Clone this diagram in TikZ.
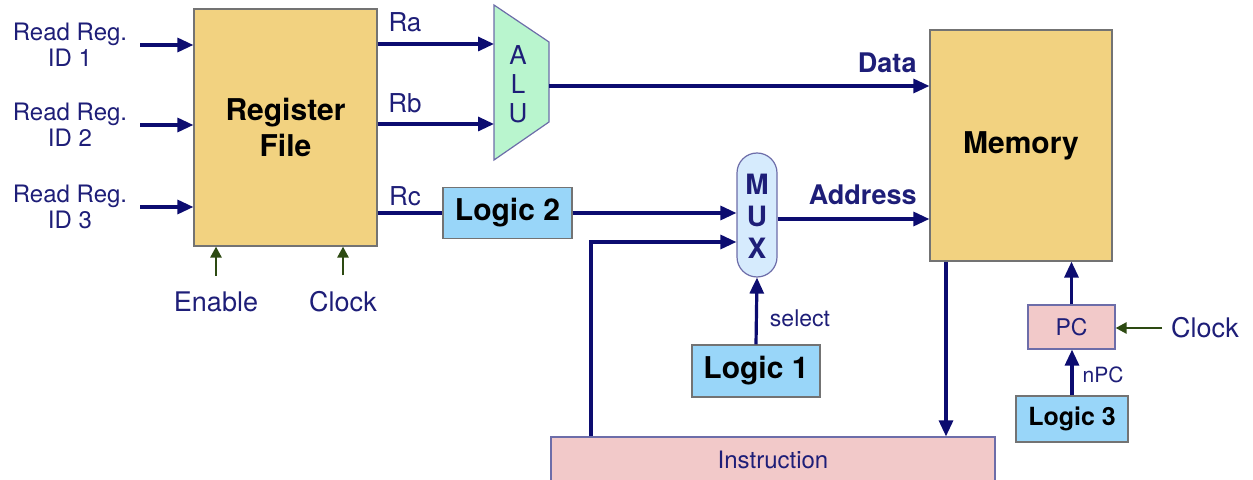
\documentclass[tikz,border=0pt]{standalone}
\usepackage{fontspec}
\setmainfont{TeX Gyre Heros}
\usetikzlibrary{arrows.meta,calc}
\definecolor{navy}{HTML}{0C0C70}
\definecolor{tnavy}{HTML}{1E1E78}
\definecolor{dgreen}{HTML}{2D4A12}
\definecolor{gold}{HTML}{F2D280}
\definecolor{mint}{HTML}{B9F5CE}
\definecolor{sky}{HTML}{99D6F9}
\definecolor{pale}{HTML}{D6EBFD}
\definecolor{rose}{HTML}{F2C9C9}
\tikzset{
  arr/.style={draw=navy,line width=1.6pt,-{Triangle[length=8pt,width=7pt]}},
  garr/.style={draw=dgreen,line width=1.3pt,-{Triangle[length=5.5pt,width=5.5pt]}},
  wire/.style={draw=navy,line width=1.6pt},
  bigbox/.style={draw=black!55,line width=0.6pt,fill=gold,inner sep=0pt},
  logicbox/.style={draw=black!55,line width=0.6pt,fill=sky,inner sep=0pt,font=\fontsize{15}{17}\selectfont\bfseries},
  pinkbox/.style={draw=navy!60,line width=0.6pt,fill=rose,inner sep=0pt,text=tnavy},
  lbl/.style={text=tnavy,inner sep=0pt},
}
\begin{document}
\begin{tikzpicture}[x=0.5pt,y=-0.5pt]
\useasboundingbox (0,0) rectangle (1253,480);
% boxes
\node[bigbox,minimum width=91.5pt,minimum height=118.5pt,align=center,font=\fontsize{15}{18}\selectfont\bfseries] (rf) at (285.5,127.5) {Register\\File};
\node[bigbox,minimum width=91pt,minimum height=115.5pt,font=\fontsize{15}{17}\selectfont\bfseries] (mem) at (1021,145.5) {Memory};
\node[logicbox,minimum width=64.5pt,minimum height=25.5pt] (l2) at (507.5,213) {Logic 2};
\node[logicbox,minimum width=64pt,minimum height=26pt] (l1) at (756,371) {Logic 1};
\node[logicbox,minimum width=56pt,minimum height=23pt,font=\fontsize{12.5}{14}\selectfont\bfseries] (l3) at (1072,419) {Logic 3};
\node[draw=navy!60,line width=0.6pt,fill=pale,rounded corners=10pt,minimum width=20pt,minimum height=62pt,inner sep=0pt] (mux) at (757,215) {};
\node[inner sep=0pt,align=center,font=\fontsize{14}{16}\selectfont\bfseries,text=tnavy] (muxt) at (757,216) {M\\U\\X};
\node[pinkbox,minimum width=222pt,minimum height=23pt,font=\fontsize{12}{14}\selectfont] (ins) at (773,460) {Instruction};
\node[pinkbox,minimum width=43.5pt,minimum height=22pt,font=\fontsize{11.5}{13}\selectfont] (pc) at (1071.5,327) {PC};
% ALU
\draw[draw=navy!60,line width=0.6pt,fill=mint] (494,5) -- (549,42) -- (549,122) -- (494,160) -- cycle;
\node[lbl,align=center,font=\fontsize{13}{14.5}\selectfont] (alut) at (518,84) {A\\L\\U};
\coordinate (alua) at (494,44);
\coordinate (alub) at (494,124);
\coordinate (aluo) at (549,86);
% inputs
\foreach \y/\n in {45/1,125/2,207/3}{
  \node[lbl,align=center,font=\fontsize{12}{13}\selectfont] (rr\n) at (70,\y) {Read Reg.\\ID \n};
  \coordinate (in\n) at (140,\y);
  \draw[arr] (in\n) -- (in\n -| rf.west);
}
% enable / clock
\node[lbl,font=\fontsize{13.5}{15}\selectfont] (en) at (216,302) {Enable};
\node[lbl,font=\fontsize{13.5}{15}\selectfont] (ck) at (343,302) {Clock};
\draw[garr] ([yshift=8pt]en.north) -- (en.north |- rf.south);
\draw[garr] ([yshift=8pt]ck.north) -- (ck.north |- rf.south);
% Ra Rb Rc
\draw[arr] (alua -| rf.east) -- (alua);
\draw[arr] (alub -| rf.east) -- (alub);
\draw[wire] (l2.west -| rf.east) -- (l2.west);
\node[lbl,font=\fontsize{13}{15}\selectfont] (ra) at (405,22) {Ra};
\node[lbl,font=\fontsize{13}{15}\selectfont] (rb) at (405,103) {Rb};
\node[lbl,font=\fontsize{13}{15}\selectfont] (rc) at (405,196) {Rc};
% ALU to memory
\draw[arr] (aluo) -- (aluo -| mem.west);
\node[lbl,font=\fontsize{13.5}{15}\selectfont\bfseries,anchor=east] (data) at (917,63) {Data};
% logic2 to mux
\draw[arr] (l2.east) -- (l2.east -| mux.west);
% instruction to mux
\coordinate (ix) at (591,242);
\draw[arr] (ins.north -| ix) -- (ix) -- (ix -| mux.west);
% mux to memory
\draw[arr] ([yshift=-2pt]mux.east) -- ([yshift=-2pt]mux.east -| mem.west);
\node[lbl,font=\fontsize{13.5}{15}\selectfont\bfseries,anchor=east] (addr) at (917,195) {Address};
% select
\draw[arr] (l1.north) -- (mux.south);
\node[lbl,font=\fontsize{11.5}{13}\selectfont] (sel) at (800,318) {select};
% memory to instruction
\coordinate (mx) at (946,300);
\draw[arr] (mem.south -| mx) -- (ins.north -| mx);
% PC
\draw[arr] (pc.north) -- (pc.north |- mem.south);
\draw[arr] (l3.north) -- (l3.north |- pc.south);
\node[lbl,font=\fontsize{10.5}{12}\selectfont] (npc) at (1103,375) {nPC};
\node[lbl,font=\fontsize{13.5}{15}\selectfont] (ck2) at (1205,328) {Clock};
\coordinate (ckin) at (1162,328);
\draw[garr] (ckin) -- (ckin -| pc.east);
\end{tikzpicture}
\end{document}
